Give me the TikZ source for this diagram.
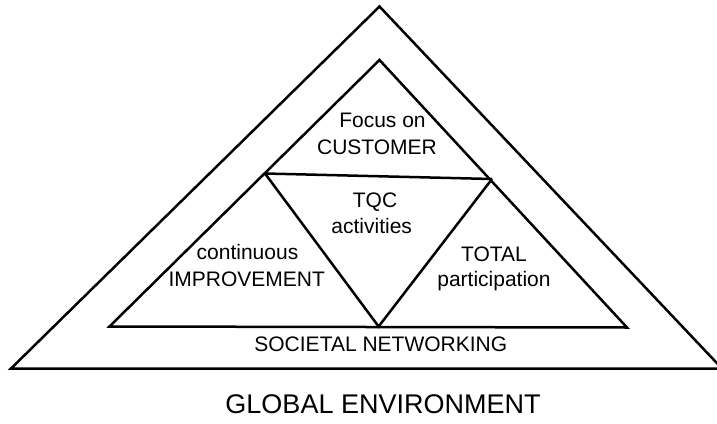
\documentclass[tikz,border=0pt]{standalone}
\usepackage{fontspec}
\setmainfont{Liberation Sans}
\begin{document}
\begin{tikzpicture}[x=1pt,y=-1pt,
  edge/.style={line width=2.5pt,line join=miter,line cap=butt},
  lbl/.style={anchor=base,inner sep=0pt,font=\fontsize{21}{25}\selectfont},
  biglbl/.style={anchor=base,inner sep=0pt,font=\fontsize{27}{32}\selectfont}]
\useasboundingbox (0,0) rectangle (717,423);
% outer triangle
\coordinate (oa) at (379.5,6.5);
\coordinate (ol) at (11,368.5);
\coordinate (or) at (722,368.5);
% inner triangle
\coordinate (ia) at (379.5,60);
\coordinate (il) at (109.5,326.5);
\coordinate (ir) at (627,327.5);
% middle line and inverted triangle
\coordinate (ml) at (265,173.5);
\coordinate (mr) at (492,179);
\coordinate (mb) at (378.6,326.5);
\draw[edge] (ol) -- (oa) -- (or) -- cycle;
\draw[edge] (il) -- (ia) -- (ir) -- cycle;
\draw[edge] (ml) -- (mr);
\draw[edge] (ml) -- (mb) -- (mr);
% labels
\node[lbl] (f1) at (382.5,127) {Focus on};
\node[lbl] (f2) at (377,154) {CUSTOMER};
\node[lbl] (t1) at (375,207.3) {TQC};
\node[lbl] (t2) at (371.7,233) {activities};
\node[lbl] (c1) at (247.5,259) {continuous};
\node[lbl] (c2) at (246.7,286) {IMPROVEMENT};
\node[lbl] (p1) at (494,261) {TOTAL};
\node[lbl] (p2) at (494,286.7) {participation};
\node[lbl] (s) at (380.8,351.7) {SOCIETAL NETWORKING};
\node[biglbl] (g) at (383,413) {GLOBAL ENVIRONMENT};
\end{tikzpicture}
\end{document}
